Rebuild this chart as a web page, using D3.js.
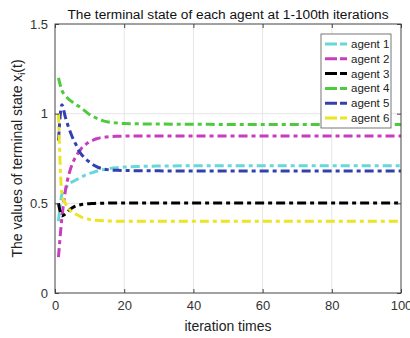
<!DOCTYPE html>
<html>
<head>
<meta charset="utf-8">
<script src="https://cdn.jsdelivr.net/npm/d3@7"></script>
<style>
  body { margin: 0; background: #fff; }
  text { font-family: "Liberation Sans", Arial, sans-serif; }
</style>
</head>
<body>
<svg id="chart"></svg>
<script>
// iteration index shared by all agents
var iterations = [1, 2, 3, 4, 5, 6, 7, 8, 9, 10, 11, 12, 13, 14, 15, 16, 18, 20, 25, 30, 40, 50, 60, 70, 80, 90, 100];

var agent1 = [0.40, 0.55, 0.58, 0.61, 0.62, 0.63, 0.64, 0.65, 0.66, 0.667, 0.673, 0.679, 0.684, 0.688, 0.692, 0.695, 0.699, 0.702, 0.706, 0.708, 0.709, 0.709, 0.709, 0.709, 0.709, 0.709, 0.709];
var agent2 = [0.20, 0.42, 0.57, 0.66, 0.72, 0.76, 0.79, 0.815, 0.83, 0.845, 0.853, 0.86, 0.865, 0.868, 0.870, 0.872, 0.874, 0.875, 0.876, 0.876, 0.876, 0.876, 0.876, 0.876, 0.876, 0.876, 0.876];
var agent3 = [0.50, 0.43, 0.44, 0.46, 0.475, 0.485, 0.49, 0.495, 0.497, 0.498, 0.499, 0.50, 0.50, 0.501, 0.501, 0.502, 0.502, 0.502, 0.502, 0.502, 0.502, 0.502, 0.502, 0.502, 0.502, 0.502, 0.502];
var agent4 = [1.20, 1.13, 1.10, 1.08, 1.065, 1.05, 1.04, 1.025, 1.01, 0.995, 0.985, 0.975, 0.967, 0.960, 0.955, 0.952, 0.948, 0.945, 0.943, 0.942, 0.941, 0.940, 0.940, 0.940, 0.940, 0.940, 0.940];
var agent5 = [0.85, 1.05, 0.98, 0.92, 0.87, 0.83, 0.79, 0.765, 0.745, 0.73, 0.715, 0.705, 0.697, 0.692, 0.688, 0.686, 0.684, 0.683, 0.682, 0.681, 0.680, 0.680, 0.680, 0.680, 0.680, 0.680, 0.680];
var agent6 = [1.00, 0.55, 0.50, 0.47, 0.45, 0.44, 0.43, 0.42, 0.415, 0.41, 0.407, 0.405, 0.404, 0.403, 0.402, 0.401, 0.400, 0.400, 0.400, 0.400, 0.400, 0.400, 0.400, 0.400, 0.400, 0.400, 0.400];

var agentNames = ["agent 1", "agent 2", "agent 3", "agent 4", "agent 5", "agent 6"];
var agentColors = ["#66d8d8", "#c83cc0", "#000000", "#4ccc3c", "#3440b0", "#ece424"];
var xTicks = [0, 20, 40, 60, 80, 100];
var yTicks = [0, 0.5, 1, 1.5];

var series = [agent1, agent2, agent3, agent4, agent5, agent6];

var W = 410, H = 338;
var margin = {top: 24, right: 9, bottom: 45, left: 55};

var svg = d3.select("#chart")
    .attr("width", W)
    .attr("height", H);

var x = d3.scaleLinear().domain([0, 100]).range([margin.left, W - margin.right]);
var y = d3.scaleLinear().domain([0, 1.5]).range([H - margin.bottom, margin.top]);

// grid
svg.append("g")
    .selectAll("line.gx")
    .data(xTicks.slice(1, -1))
    .enter().append("line")
    .attr("x1", d => x(d)).attr("x2", d => x(d))
    .attr("y1", y(0)).attr("y2", y(1.5))
    .style("stroke", "#e6e6e6").style("stroke-width", 1);
svg.append("g")
    .selectAll("line.gy")
    .data(yTicks.slice(1, -1))
    .enter().append("line")
    .attr("x1", x(0)).attr("x2", x(100))
    .attr("y1", d => y(d)).attr("y2", d => y(d))
    .style("stroke", "#e6e6e6").style("stroke-width", 1);

// lines
var line = d3.line()
    .x((d, i) => x(iterations[i]))
    .y(d => y(d))
    .curve(d3.curveMonotoneX);

svg.append("g")
    .selectAll("path")
    .data(series)
    .enter().append("path")
    .attr("d", line)
    .attr("fill", "none")
    .attr("stroke", (d, i) => agentColors[i])
    .attr("stroke-width", 3)
    .attr("stroke-dasharray", "9,4,4,4");

// axes (ticks inside, like matlab)
var xAxis = d3.axisBottom(x).tickValues(xTicks).tickSize(-4).tickPadding(8).tickFormat(d3.format("d"));
var yAxis = d3.axisLeft(y).tickValues(yTicks).tickSize(-4).tickPadding(7).tickFormat(d => d);

var gx = svg.append("g").attr("transform", "translate(0," + y(0) + ")").call(xAxis);
var gy = svg.append("g").attr("transform", "translate(" + x(0) + ",0)").call(yAxis);
[gx, gy].forEach(function(g) {
    g.select(".domain").remove();
    g.selectAll("line").style("stroke", "#444");
    g.selectAll("text").style("font-size", "13px").style("fill", "#333");
});
var gxTop = svg.append("g").attr("transform", "translate(0," + y(1.5) + ")")
    .call(d3.axisTop(x).tickValues(xTicks).tickSize(-4).tickFormat(""));
var gyRight = svg.append("g").attr("transform", "translate(" + x(100) + ",0)")
    .call(d3.axisRight(y).tickValues(yTicks).tickSize(-4).tickFormat(""));
[gxTop, gyRight].forEach(function(g) {
    g.select(".domain").remove();
    g.selectAll("line").style("stroke", "#444");
});

// box
svg.append("rect")
    .attr("x", x(0)).attr("y", y(1.5))
    .attr("width", x(100) - x(0)).attr("height", y(0) - y(1.5))
    .attr("fill", "none").attr("stroke", "#444").attr("stroke-width", 1);

// title and labels
svg.append("text")
    .attr("x", (x(0) + x(100)) / 2).attr("y", 19)
    .attr("text-anchor", "middle")
    .style("font-size", "13.7px").style("fill", "#111")
    .text("The terminal state of each agent at 1-100th iterations");

svg.append("text")
    .attr("x", (x(0) + x(100)) / 2).attr("y", 331)
    .attr("text-anchor", "middle")
    .style("font-size", "14px").style("fill", "#222")
    .text("iteration times");

var ylab = svg.append("text")
    .attr("transform", "translate(22," + ((y(0) + y(1.5)) / 2) + ") rotate(-90)")
    .attr("text-anchor", "middle")
    .style("font-size", "14px").style("fill", "#222");
ylab.append("tspan").text("The values of terminal state x");
ylab.append("tspan").attr("dy", 3).style("font-size", "9px").text("i");
ylab.append("tspan").attr("dy", -3).text("(t)");

// legend
var legend = svg.append("g").attr("transform", "translate(321,34)");
legend.append("rect")
    .attr("width", 70).attr("height", 94)
    .attr("fill", "#fff").attr("stroke", "#555").attr("stroke-width", 0.8);
var items = legend.selectAll("g.item")
    .data(agentNames)
    .enter().append("g")
    .attr("transform", (d, i) => "translate(0," + (10 + i * 14.8) + ")");
items.append("line")
    .attr("x1", 4).attr("x2", 26)
    .attr("stroke", (d, i) => agentColors[i])
    .attr("stroke-width", 3)
    .attr("stroke-dasharray", "12,3,7");
items.append("text")
    .attr("x", 30).attr("y", 4)
    .style("font-size", "11.5px").style("fill", "#222")
    .text(d => d);
</script>
</body>
</html>
